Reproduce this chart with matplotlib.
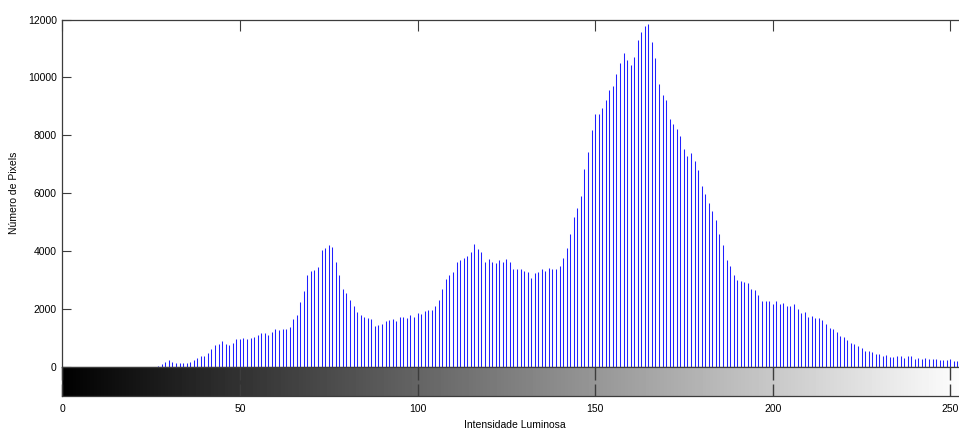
import numpy as np
import matplotlib.pyplot as plt

plt.rcParams["font.family"] = ["Liberation Sans", "DejaVu Sans"]

# histogram counts (intensities 0..255)
first_level = 27
counts = [
    50, 100, 170, 240, 170, 140, 140, 140, 140, 170,          # 27-36
    240, 310, 390, 390, 470, 620, 750, 790, 900, 790,          # 37-46
    750, 830, 980, 980, 1000, 980, 1010, 1045, 1115, 1160,     # 47-56
    1160, 1115, 1195, 1300, 1280, 1300, 1300, 1380, 1665, 1790,  # 57-66
    2250, 2640, 3180, 3330, 3360, 3470, 4045, 4125, 4230, 4160,  # 67-76
    3610, 3170, 2710, 2560, 2310, 2090, 1885, 1795, 1725, 1690,  # 77-86
    1655, 1400, 1435, 1470, 1585, 1620, 1655, 1585, 1725, 1725,  # 87-96
    1690, 1795, 1725, 1875, 1830, 1920, 1955, 1955, 2090, 2310,  # 97-106
    2710, 3035, 3170, 3290, 3620, 3690, 3770, 3820, 3980, 4235,  # 107-116
    4060, 3980, 3610, 3725, 3610, 3575, 3690, 3610, 3725, 3610,  # 117-126
    3370, 3370, 3370, 3320, 3285, 3070, 3250, 3285, 3370, 3320,  # 127-136
    3435, 3370, 3400, 3505, 3760, 4125, 4585, 5170, 5495, 5895,  # 137-146
    6830, 7415, 8170, 8725, 8725, 8945, 9205, 9550, 9690, 10125,  # 147-156
    10495, 10850, 10600, 10425, 10700, 11285, 11575, 11790, 11830, 11240,  # 157-166
    10665, 9770, 9400, 9205, 8575, 8390, 8205, 7990, 7515, 7275,  # 167-176
    7380, 7125, 6790, 6250, 5965, 5655, 5390, 5070, 4585, 4230,  # 177-186
    3690, 3505, 3170, 3000, 2960, 2920, 2885, 2680, 2645, 2490,  # 187-196
    2275, 2275, 2275, 2170, 2275, 2170, 2205, 2090, 2090, 2170,  # 197-206
    2000, 1875, 1910, 1735, 1770, 1700, 1700, 1620, 1485, 1345,  # 207-216
    1300, 1220, 1080, 1045, 930, 830, 790, 725, 655, 540,        # 217-226
    540, 505, 435, 435, 390, 400, 355, 355, 365, 365,            # 227-236
    320, 365, 365, 285, 320, 285, 320, 285, 285, 285,            # 237-246
    250, 250, 250, 285, 215, 215, 200, 200, 190,                 # 247-255
]
levels = np.arange(first_level, first_level + len(counts))

y_ticks = [0, 2000, 4000, 6000, 8000, 10000, 12000]
x_ticks = [0, 50, 100, 150, 200, 250]

W, H = 959, 432
fig = plt.figure(figsize=(W / 100, H / 100), dpi=100)

x0 = 62.3
px_per_level = 3.552
ax_w = 255 * px_per_level
frame = "#3c3c3c"

# histogram axes
ax = fig.add_axes([x0 / W, (H - 367) / H, ax_w / W, (367 - 19.5) / H])
ax.vlines(levels, 0, counts, colors="#2020ff", linewidth=0.75)
ax.set_xlim(0, 255)
ax.set_ylim(0, 12000)
ax.set_yticks(y_ticks)
ax.set_xticks(x_ticks)
ax.tick_params(axis="both", direction="in", colors=frame, labelcolor="black",
               labelsize=7.5, length=6.5, width=0.8)
ax.tick_params(axis="x", top=True, bottom=False, labelbottom=False, length=8)
ax.tick_params(axis="y", right=True, pad=4)
for s in ax.spines.values():
    s.set_color(frame)
    s.set_linewidth(0.9)
ax.set_ylabel("Número de Pixels", fontsize=7.5, labelpad=6)

# gray level bar under the histogram
cb = fig.add_axes([x0 / W, (H - 396) / H, ax_w / W, 29 / H])
gradient = np.linspace(0, 255, 256).reshape(1, -1)
cb.imshow(gradient, cmap="gray", aspect="auto", extent=[0, 255, 0, 1],
          vmin=0, vmax=255)
cb.set_xlim(0, 255)
cb.set_ylim(0, 1)
cb.set_yticks([])
cb.set_xticks(x_ticks)
cb.tick_params(axis="x", direction="in", top=True, bottom=True, length=9,
               width=1.0, colors=frame, labelcolor="black", labelsize=7.5, pad=6)
for s in cb.spines.values():
    s.set_color(frame)
    s.set_linewidth(0.9)
cb.set_xlabel("Intensidade Luminosa", fontsize=7.5, labelpad=4)

fig.savefig("out.png", dpi=100)
